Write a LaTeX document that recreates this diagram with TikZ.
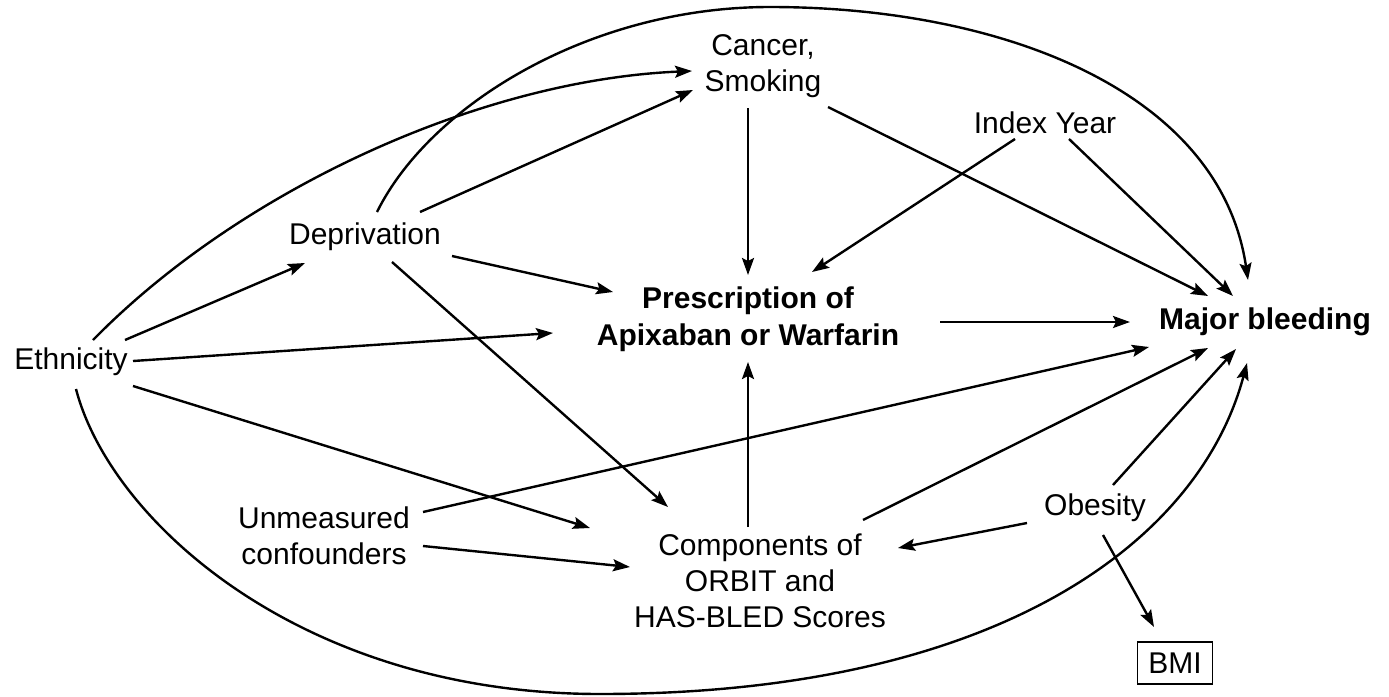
\documentclass[tikz,border=0pt]{standalone}
\usepackage{fontspec}
\setmainfont{Liberation Sans}
\usetikzlibrary{arrows.meta,calc}
\begin{document}
\begin{tikzpicture}[x=1pt,y=-1pt,
  lbl/.style={inner sep=0pt, align=center, font=\fontsize{30}{36}\selectfont},
  blbl/.style={inner sep=0pt, align=center, font=\fontsize{30}{37}\selectfont\bfseries},
  arr/.style={line width=2.4pt, -{Stealth[length=17pt,width=12pt,inset=3pt]}},
  boxed/.style={lbl, draw, line width=1.6pt, minimum width=75pt, minimum height=42pt}]
\useasboundingbox (0,0) rectangle (1389,696);

\node[lbl]  (eth)  at (71,362)   {Ethnicity};
\node[lbl]  (dep)  at (365,237)  {Deprivation};
\node[lbl]  (cs)   at (763,66)   {Cancer,\\Smoking};
\node[lbl]  (iy)   at (1045,123) {Index Year};
\node[blbl] (pres) at (748,319)  {Prescription of\\Apixaban or Warfarin};
\node[blbl] (mb)   at (1265,322) {Major bleeding};
\node[lbl]  (um)   at (324,536)  {Unmeasured\\confounders};
\node[lbl]  (comp) at (760,581)  {Components of\\ORBIT and\\HAS-BLED Scores};
\node[lbl]  (ob)   at (1095,508) {Obesity};
\node[boxed] (bmi) at (1175,663) {BMI};

% curved connectors
\draw[arr] ($(eth)+(22,-22)$) .. controls (240,190) and (480,80) .. ($(cs)+(-71,5)$);
\draw[arr] ($(dep)+(12,-25)$) .. controls (430,105) and (590,7) .. (770,7)
           .. controls (1000,7) and (1220,90) .. ($(mb)+(-17,-42)$);
\draw[arr] ($(eth)+(5,27)$) .. controls (110,520) and (300,694) .. (600,694)
           .. controls (1000,694) and (1200,540) .. ($(mb)+(-18,41)$);

% straight connectors
\draw[arr] ($(dep)+(55,-25)$) -- ($(cs)+(-70,24)$);
\draw[arr] ($(eth)+(54,-22)$) -- ($(dep)+(-60,26)$);
\draw[arr] ($(eth)+(62,-1)$) -- ($(pres)+(-195,14)$);
\draw[arr] ($(eth)+(62,24)$) -- ($(comp)+(-170,-53)$);
\draw[arr] ($(dep)+(27,25)$) -- ($(comp)+(-92,-74)$);
\draw[arr] ($(dep)+(87,19)$) -- ($(pres)+(-135,-27)$);
\draw[arr] ($(cs)+(-15,42)$) -- ($(pres)+(0,-44)$);
\draw[arr] ($(cs)+(65,41)$) -- ($(mb)+(-57,-26)$);
\draw[arr] ($(iy)+(-30,16)$) -- ($(pres)+(64,-47)$);
\draw[arr] ($(iy)+(24,16)$) -- ($(mb)+(-32,-26)$);
\draw[arr] ($(pres)+(192,3)$) -- ($(mb)+(-135,0)$);
\draw[arr] ($(um)+(99,-24)$) -- ($(mb)+(-116,25)$);
\draw[arr] ($(um)+(99,10)$) -- ($(comp)+(-130,-14)$);
\draw[arr] ($(comp)+(-12,-54)$) -- ($(pres)+(0,43)$);
\draw[arr] ($(comp)+(103,-61)$) -- ($(mb)+(-57,26)$);
\draw[arr] ($(ob)+(18,-23)$) -- ($(mb)+(-29,27)$);
\draw[arr] ($(ob)+(-68,15)$) -- ($(comp)+(138,-33)$);
\draw[arr] ($(ob)+(8,27)$) -- ($(bmi)+(-21,-36)$);
\end{tikzpicture}
\end{document}
